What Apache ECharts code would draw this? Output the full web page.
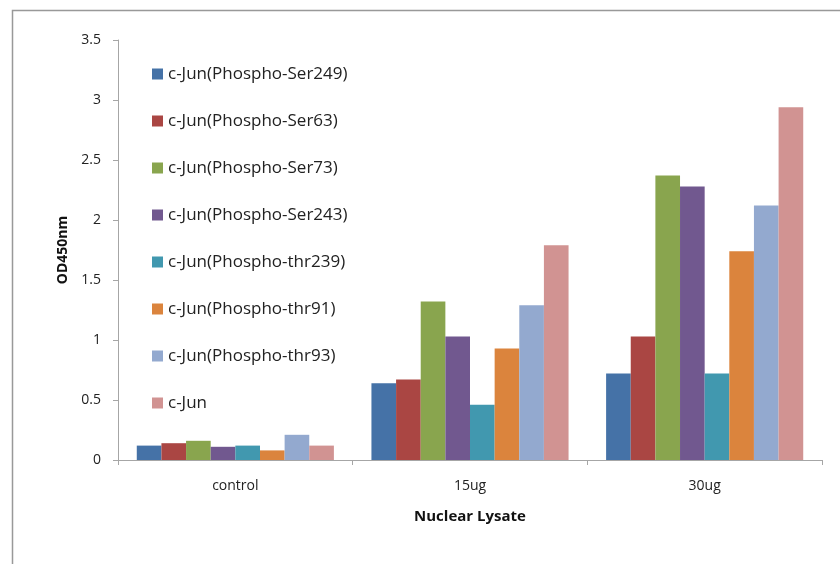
<!DOCTYPE html>
<html><head><meta charset="utf-8">
<script src="https://cdn.jsdelivr.net/npm/echarts@6/dist/echarts.min.js"></script>
<style>html,body{margin:0;padding:0;background:#fff}#c{width:840px;height:564px}</style>
</head><body><div id="c"></div>
<script>
const categories = ['control', '15ug', '30ug'];
const seriesNames = ['c-Jun(Phospho-Ser249)','c-Jun(Phospho-Ser63)','c-Jun(Phospho-Ser73)','c-Jun(Phospho-Ser243)','c-Jun(Phospho-thr239)','c-Jun(Phospho-thr91)','c-Jun(Phospho-thr93)','c-Jun'];
const ser249 = [0.12, 0.64, 0.72];
const ser63  = [0.14, 0.67, 1.03];
const ser73  = [0.16, 1.32, 2.37];
const ser243 = [0.11, 1.03, 2.28];
const thr239 = [0.12, 0.46, 0.72];
const thr91  = [0.08, 0.93, 1.74];
const thr93  = [0.21, 1.29, 2.12];
const cJun   = [0.12, 1.79, 2.94];
const yTicks = [0, 0.5, 1, 1.5, 2, 2.5, 3, 3.5];
const colors = ['#4572A7','#AA4643','#89A54E','#71588F','#4198AF','#DB843D','#93A9CF','#D19392'];
const values = [ser249, ser63, ser73, ser243, thr239, thr91, thr93, cJun];
const FONT = 'Open Sans';
const chart = echarts.init(document.getElementById('c'), null, {renderer:'canvas'});
chart.setOption({
  animation: false,
  color: colors,
  textStyle: {fontFamily: FONT},
  graphic: [{type:'rect', shape:{x:12.5, y:10.5, width:900, height:700}, style:{fill:'none', stroke:'#999', lineWidth:1.5}, silent:true}],
  grid: {left:118, right:18, top:40, bottom:104},
  legend: {
    orient:'vertical', left:147, top:60.5, itemWidth:11, itemHeight:11, itemGap:30,
    icon:'rect', data: seriesNames,
    textStyle:{fontFamily:FONT, fontSize:17, color:'#222', padding:[0,0,0,0]}
  },
  xAxis: {
    type:'category', data: categories,
    name:'Nuclear Lysate', nameLocation:'middle', nameGap:49,
    nameTextStyle:{fontFamily:FONT, fontSize:15, fontWeight:'bold', color:'#111'},
    axisLine:{lineStyle:{color:'#a6a6a6', width:1}},
    axisTick:{show:true, length:5, lineStyle:{color:'#a6a6a6'}},
    axisLabel:{fontFamily:FONT, fontSize:14, color:'#222', margin:19}
  },
  yAxis: {
    type:'value', min:0, max:3.5, interval:0.5,
    name:'OD450nm', nameLocation:'middle', nameGap:48, nameRotate:90,
    nameTextStyle:{fontFamily:FONT, fontSize:14, fontWeight:'bold', color:'#111'},
    axisLine:{show:true, lineStyle:{color:'#a6a6a6', width:1}},
    axisTick:{show:true, length:5, lineStyle:{color:'#a6a6a6'}},
    splitLine:{show:false},
    axisLabel:{fontFamily:FONT, fontSize:14, color:'#222', margin:17,
      formatter: v => yTicks.includes(v) ? String(v) : ''}
  },
  series: seriesNames.map((n,i)=>({
    name:n, type:'bar', data: values[i], barGap:'0%', barCategoryGap:'16%',
    itemStyle:{color:colors[i]}
  }))
});
</script></body></html>
